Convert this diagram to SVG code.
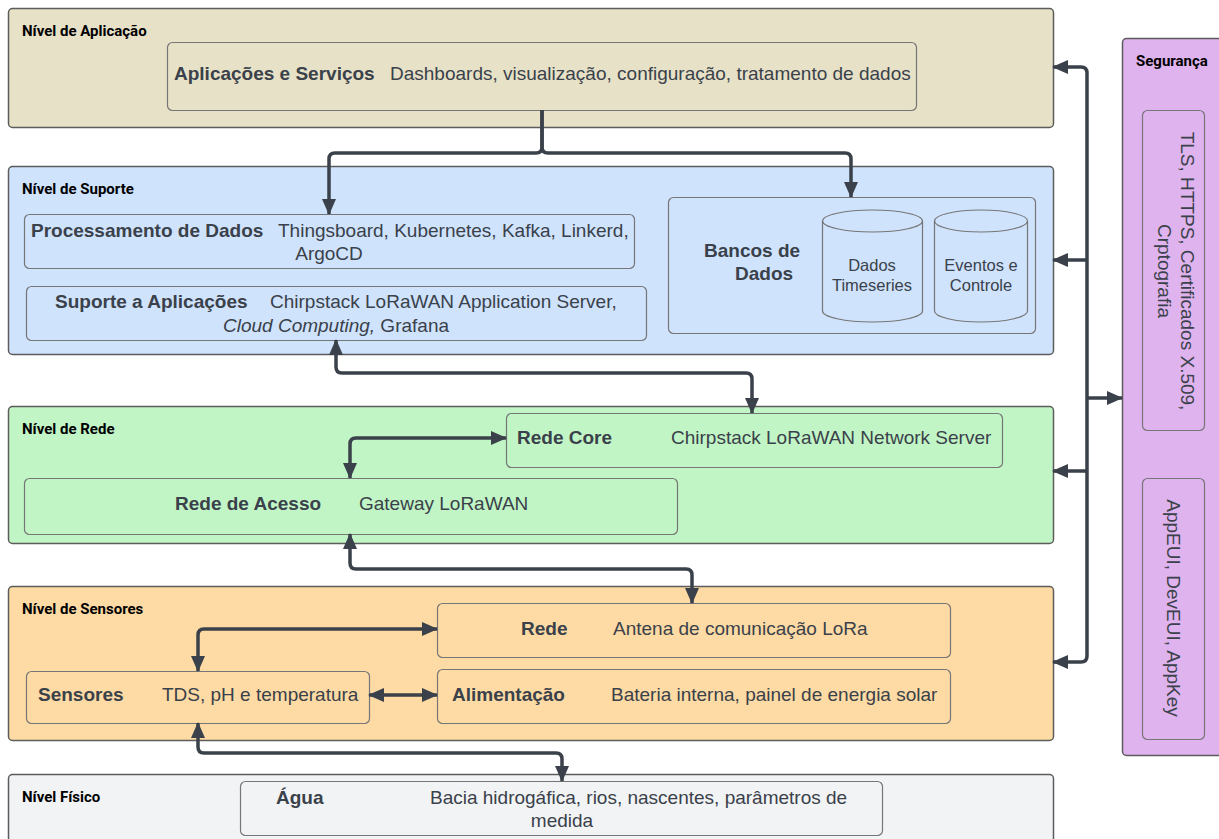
<svg xmlns="http://www.w3.org/2000/svg" width="1219" height="839" viewBox="0 0 1219 839">
<defs>
<marker id="arr" viewBox="0 0 16 14" refX="15" refY="7" markerWidth="16" markerHeight="14" markerUnits="userSpaceOnUse" orient="auto-start-reverse">
<path d="M0,0 L16,7 L0,14 z" fill="#3a414a"/>
</marker>
<style>
.lvl{stroke:#5c5c5c;stroke-width:1.5}
.in{stroke:#767676;stroke-width:1.2}
.lbl{font-family:Roboto,"Liberation Sans",sans-serif;font-weight:700;font-size:15px;fill:#000}
.b{font-family:"Liberation Sans",Arial,sans-serif;font-weight:700;font-size:19px;fill:#3a414a}
.t{font-family:"Liberation Sans",Arial,sans-serif;font-size:19px;fill:#3a414a}
.s{font-family:"Liberation Sans",Arial,sans-serif;font-size:16.5px;fill:#3a414a}
.c{fill:none;stroke:#3a414a;stroke-width:3.5}
</style>
</defs>
<rect width="1219" height="839" fill="#ffffff"/>

<g id="nivel-aplicacao">
<rect class="lvl" x="8.5" y="8.5" width="1045" height="119" rx="4" fill="#e7e1c8"/>
<text class="lbl" x="22" y="36">Nível de Aplicação</text>
<g id="aplicacoes-servicos">
<rect class="in" x="167.5" y="42.5" width="749" height="68" rx="5" fill="#e7e1c8"/>
<text class="b" x="174" y="80">Aplicações e Serviços</text>
<text class="t" x="390" y="80">Dashboards, visualização, configuração, tratamento de dados</text>
</g>
</g>

<g id="nivel-suporte">
<rect class="lvl" x="8.5" y="166.5" width="1045" height="188" rx="4" fill="#cfe3fd"/>
<text class="lbl" x="22" y="194">Nível de Suporte</text>
<g id="processamento">
<rect class="in" x="24.5" y="214.5" width="610" height="54" rx="5" fill="#cfe3fd"/>
<text class="b" x="31" y="237">Processamento de Dados</text>
<text class="t" x="278" y="237">Thingsboard, Kubernetes, Kafka, Linkerd,</text>
<text class="t" x="329" y="260" text-anchor="middle">ArgoCD</text>
</g>
<g id="suporte-aplicacoes">
<rect class="in" x="26.5" y="286.5" width="620" height="54" rx="5" fill="#cfe3fd"/>
<text class="b" x="55" y="308">Suporte a Aplicações</text>
<text class="t" x="270" y="308">Chirpstack LoRaWAN Application Server,</text>
<text class="t" x="336" y="332" text-anchor="middle"><tspan font-style="italic">Cloud Computing,</tspan> Grafana</text>
</g>
<g id="bancos-dados">
<rect class="in" x="668.5" y="197.5" width="367" height="136" rx="5" fill="#cfe3fd"/>
<text class="b" x="704" y="257">Bancos de</text>
<text class="b" x="735" y="280">Dados</text>
</g>
<g id="dados-timeseries">
<path class="in" d="M822.5,221 A50,11 0 0 1 922.5,221 V311 A50,11 0 0 1 822.5,311 Z" fill="#cfe3fd"/>
<path class="in" d="M822.5,221 A50,11 0 0 0 922.5,221" fill="none"/>
<text class="s" x="872" y="271" text-anchor="middle">Dados</text>
<text class="s" x="872" y="291" text-anchor="middle">Timeseries</text>
</g>
<g id="eventos-controle">
<path class="in" d="M934.5,221 A46.5,11 0 0 1 1027.5,221 V311 A46.5,11 0 0 1 934.5,311 Z" fill="#cfe3fd"/>
<path class="in" d="M934.5,221 A46.5,11 0 0 0 1027.5,221" fill="none"/>
<text class="s" x="981" y="271" text-anchor="middle">Eventos e</text>
<text class="s" x="981" y="291" text-anchor="middle">Controle</text>
</g>
</g>

<g id="nivel-rede">
<rect class="lvl" x="8.5" y="406.5" width="1045" height="137" rx="4" fill="#c2f5c6"/>
<text class="lbl" x="22" y="434">Nível de Rede</text>
<g id="rede-core">
<rect class="in" x="506.5" y="413.5" width="496" height="54" rx="5" fill="#c2f5c6"/>
<text class="b" x="517" y="444">Rede Core</text>
<text class="t" x="671" y="444">Chirpstack LoRaWAN Network Server</text>
</g>
<g id="rede-acesso">
<rect class="in" x="24.5" y="478.5" width="653" height="56" rx="5" fill="#c2f5c6"/>
<text class="b" x="175" y="510">Rede de Acesso</text>
<text class="t" x="359" y="510">Gateway LoRaWAN</text>
</g>
</g>

<g id="nivel-sensores">
<rect class="lvl" x="8.5" y="586.5" width="1045" height="154" rx="4" fill="#fedba4"/>
<text class="lbl" x="22" y="614">Nível de Sensores</text>
<g id="rede-sensor">
<rect class="in" x="437.5" y="603.5" width="513" height="54" rx="5" fill="#fedba4"/>
<text class="b" x="521" y="635">Rede</text>
<text class="t" x="613" y="635">Antena de comunicação LoRa</text>
</g>
<g id="alimentacao">
<rect class="in" x="437.5" y="669.5" width="513" height="54" rx="5" fill="#fedba4"/>
<text class="b" x="452" y="701">Alimentação</text>
<text class="t" x="611" y="701">Bateria interna, painel de energia solar</text>
</g>
<g id="sensores">
<rect class="in" x="26.5" y="671.5" width="343" height="52" rx="5" fill="#fedba4"/>
<text class="b" x="38" y="701">Sensores</text>
<text class="t" x="162" y="701">TDS, pH e temperatura</text>
</g>
</g>

<g id="nivel-fisico">
<rect class="lvl" x="8.5" y="774.5" width="1045" height="80" rx="4" fill="#f2f3f5"/>
<text class="lbl" x="22" y="802">Nível Físico</text>
<g id="agua">
<rect class="in" x="240.5" y="781.5" width="642" height="54" rx="5" fill="#f2f3f5"/>
<text class="b" x="276" y="804">Água</text>
<text class="t" x="430" y="804">Bacia hidrogáfica, rios, nascentes, parâmetros de</text>
<text class="t" x="562" y="827" text-anchor="middle">medida</text>
</g>
</g>

<g id="seguranca">
<rect class="lvl" x="1122.5" y="38.5" width="110" height="717" rx="4" fill="#dfb3ee"/>
<text class="lbl" x="1136" y="66">Segurança</text>
<g id="tls">
<rect class="in" x="1142.5" y="110.5" width="62" height="320" rx="5" fill="#dfb3ee"/>
<text class="t" transform="translate(1175,271) rotate(90)" text-anchor="middle"><tspan x="0" y="-6">TLS, HTTPS, Certificados X.509,</tspan><tspan x="0" y="17">Crptografia</tspan></text>
</g>
<g id="chaves">
<rect class="in" x="1142.5" y="478.5" width="62" height="261" rx="5" fill="#dfb3ee"/>
<text class="t" transform="translate(1173,608) rotate(90)" text-anchor="middle" x="0" y="6">AppEUI, DevEUI, AppKey</text>
</g>
</g>

<g id="conectores">
<path class="c" d="M542,110 V147 Q542,153 536,153 H335 Q329,153 329,159 V214" marker-end="url(#arr)"/>
<path class="c" d="M542,110 V147 Q542,153 548,153 H845 Q851,153 851,159 V197" marker-end="url(#arr)"/>
<path class="c" d="M336,340 V367 Q336,373 342,373 H746 Q752,373 752,379 V413" marker-start="url(#arr)" marker-end="url(#arr)"/>
<path class="c" d="M350,478 V444 Q350,438 356,438 H506" marker-start="url(#arr)" marker-end="url(#arr)"/>
<path class="c" d="M350,534 V563 Q350,569 356,569 H686 Q692,569 692,575 V603" marker-start="url(#arr)" marker-end="url(#arr)"/>
<path class="c" d="M437,629 H204 Q198,629 198,635 V671" marker-start="url(#arr)" marker-end="url(#arr)"/>
<path class="c" d="M369,695 H437" marker-start="url(#arr)" marker-end="url(#arr)"/>
<path class="c" d="M198,723 V747 Q198,753 204,753 H556 Q562,753 562,759 V781" marker-start="url(#arr)" marker-end="url(#arr)"/>
<path class="c" d="M1053,67 H1081 Q1087,67 1087,73 V656 Q1087,662 1081,662 H1053" marker-start="url(#arr)" marker-end="url(#arr)"/>
<path class="c" d="M1087,260 H1053" marker-end="url(#arr)"/>
<path class="c" d="M1087,471 H1053" marker-end="url(#arr)"/>
<path class="c" d="M1087,398 H1122" marker-end="url(#arr)"/>
</g>
</svg>
